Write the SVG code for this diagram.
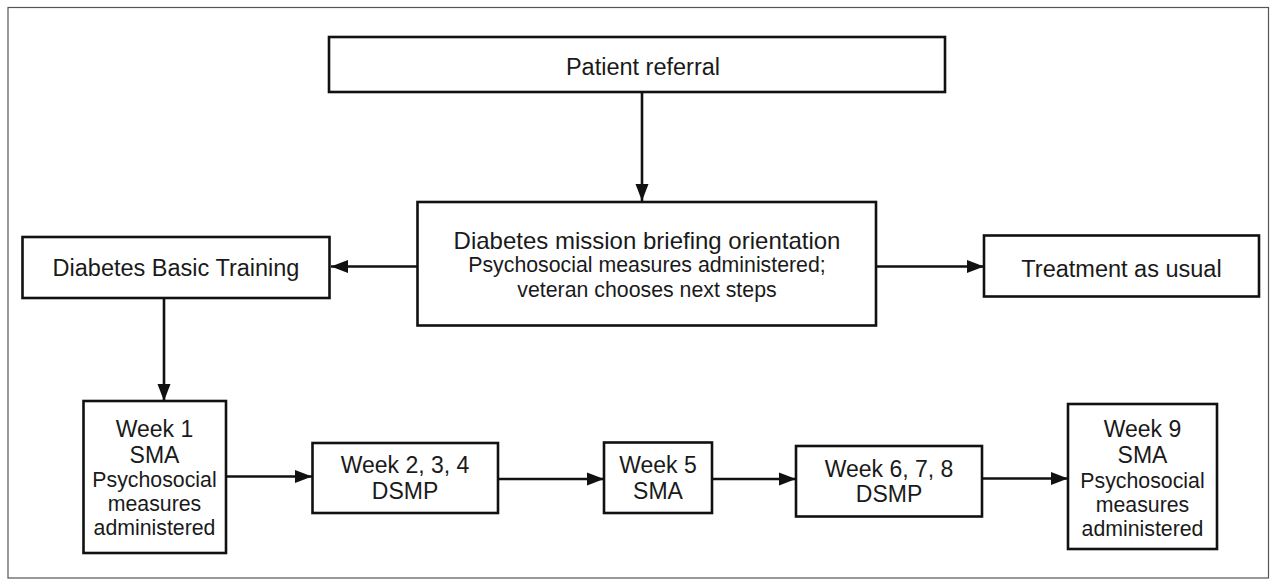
<svg xmlns="http://www.w3.org/2000/svg" width="1276" height="585" viewBox="0 0 1276 585">
<style>
.box{fill:#fff;stroke:#111;stroke-width:2.6}
.t{font-family:"Liberation Sans",Arial,Helvetica,sans-serif;fill:#1a1a1a;text-anchor:middle}
.big{font-size:23.5px}
.mid{font-size:23px}
.sm{font-size:21.3px}
.con{stroke:#111;stroke-width:2.6;fill:none}
</style>
<defs>
<marker id="ah" markerUnits="userSpaceOnUse" markerWidth="18" markerHeight="14" viewBox="0 0 18 13" refX="17" refY="6.5" orient="auto">
<path d="M0,0 L17,6.5 L0,13 z" fill="#111"/>
</marker>
</defs>
<rect x="8" y="7.5" width="1260.5" height="570.5" fill="#fff" stroke="#555" stroke-width="1.2"/>
<g id="connectors">
<path class="con" d="M642,92 V201" marker-end="url(#ah)"/>
<path class="con" d="M417.5,266.5 H331" marker-end="url(#ah)"/>
<path class="con" d="M876,266.5 H984" marker-end="url(#ah)"/>
<path class="con" d="M164,298 V401" marker-end="url(#ah)"/>
<path class="con" d="M226,476.5 H312" marker-end="url(#ah)"/>
<path class="con" d="M498,479 H604" marker-end="url(#ah)"/>
<path class="con" d="M712,479 H796" marker-end="url(#ah)"/>
<path class="con" d="M982,478.5 H1068" marker-end="url(#ah)"/>
</g>
<g id="patient-referral">
<rect class="box" x="329" y="37" width="616" height="55"/>
<text class="t big" x="643" y="75">Patient referral</text>
</g>
<g id="orientation">
<rect class="box" x="417.5" y="202" width="458.5" height="123.5"/>
<text class="t" x="647" y="249" font-size="24">Diabetes mission briefing orientation</text>
<text class="t sm" x="647" y="272">Psychosocial measures administered;</text>
<text class="t sm" x="647" y="297">veteran chooses next steps</text>
</g>
<g id="basic-training">
<rect class="box" x="22.5" y="237" width="307" height="61"/>
<text class="t big" x="176" y="276">Diabetes Basic Training</text>
</g>
<g id="treatment">
<rect class="box" x="984" y="235.5" width="275" height="61"/>
<text class="t big" x="1121.5" y="276.5">Treatment as usual</text>
</g>
<g id="week1">
<rect class="box" x="83.5" y="401" width="142.5" height="152"/>
<text class="t mid" x="154.5" y="437">Week 1</text>
<text class="t mid" x="154.5" y="463">SMA</text>
<text class="t sm" x="154.5" y="487">Psychosocial</text>
<text class="t sm" x="154.5" y="511">measures</text>
<text class="t sm" x="154.5" y="535">administered</text>
</g>
<g id="week234">
<rect class="box" x="312.5" y="443" width="185.5" height="70"/>
<text class="t mid" x="405" y="473">Week 2, 3, 4</text>
<text class="t mid" x="405" y="499">DSMP</text>
</g>
<g id="week5">
<rect class="box" x="604" y="442.5" width="108" height="70.5"/>
<text class="t mid" x="658" y="473">Week 5</text>
<text class="t mid" x="658" y="499">SMA</text>
</g>
<g id="week678">
<rect class="box" x="796" y="446" width="186" height="70.5"/>
<text class="t mid" x="889" y="477">Week 6, 7, 8</text>
<text class="t mid" x="889" y="502">DSMP</text>
</g>
<g id="week9">
<rect class="box" x="1068" y="404" width="149" height="145"/>
<text class="t mid" x="1142.5" y="437">Week 9</text>
<text class="t mid" x="1142.5" y="463">SMA</text>
<text class="t sm" x="1142.5" y="488">Psychosocial</text>
<text class="t sm" x="1142.5" y="512">measures</text>
<text class="t sm" x="1142.5" y="536">administered</text>
</g>
</svg>
